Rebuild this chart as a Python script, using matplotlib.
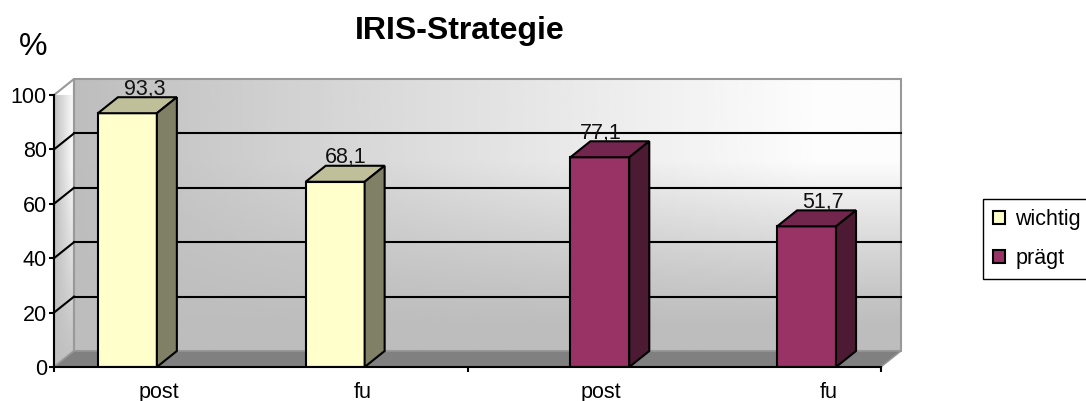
import numpy as np
import matplotlib
matplotlib.use('Agg')
import matplotlib.pyplot as plt
from matplotlib.patches import Polygon, Patch

plt.rcParams['font.family'] = ['Liberation Sans', 'DejaVu Sans']

# data
series_names = ['wichtig', 'prägt']
categories = ['post', 'fu', 'post', 'fu']
wichtig = [93.3, 68.1]
praegt = [77.1, 51.7]
value_labels = ['93,3', '68,1', '77,1', '51,7']
y_ticks = [0, 20, 40, 60, 80, 100]

# layout, x axis runs 0..4 with two groups of two
bar_pos = [0.355, 1.36, 2.64, 3.64]
bar_w = 0.285
label_pos = [0.508, 1.494, 2.646, 3.749]
value_pos = [0.44, 1.41, 2.645, 3.72]
DX = 20 / 206.75
DY = 16 / 2.72
LW = 1.5

colors = {'wichtig': ('#FFFFCC', '#BFBF99', '#808066'),
          'prägt': ('#993366', '#73264D', '#4D1A33')}

fig = plt.figure(figsize=(10.86, 4.01), dpi=100)
ax = fig.add_axes([54 / 1086, 1 - 367 / 401, 827 / 1086, 272 / 401])
ax.patch.set_visible(False)
for s in ['top', 'right']:
    ax.spines[s].set_visible(False)
for s in ['left', 'bottom']:
    ax.spines[s].set_linewidth(LW)
    ax.spines[s].set_zorder(6)

# back wall gradient, lighter towards upper right
xx, yy = np.meshgrid(np.linspace(0, 1, 200), np.linspace(0, 1, 100))
u = np.clip(xx / 0.9, 0, 1) ** 0.9
v = np.clip((yy - 0.08) / 0.62, 0, 1) ** 1.2
wall = 0.74 + 0.25 * u * v
ax.imshow(wall, extent=[DX, 4 + DX, DY, 100 + DY], origin='lower', cmap='gray',
          vmin=0, vmax=1, aspect='auto', zorder=1, clip_on=False)
ax.add_patch(Polygon([(DX, DY), (4 + DX, DY), (4 + DX, 100 + DY), (DX, 100 + DY)], closed=True,
                     fill=False, ec='#999999', lw=1.5, zorder=1.5, clip_on=False))

# left side wall
sx, sy = np.meshgrid(np.linspace(0, 1, 40), np.linspace(0, 1, 100))
side = 0.75 + 0.24 * sx * np.clip(sy / 0.7, 0, 1)
side_im = ax.imshow(side, extent=[0, DX, 0, 100 + DY], origin='lower', cmap='gray',
                    vmin=0, vmax=1, aspect='auto', zorder=1)
side_poly = Polygon([(0, 0), (DX, DY), (DX, 100 + DY), (0, 100)], closed=True,
                    fc='none', ec='#999999', lw=1.5, zorder=1.5, clip_on=False)
ax.add_patch(side_poly)
side_im.set_clip_path(side_poly)
ax.set_xlim(0, 4)
ax.set_ylim(0, 100)

# floor
ax.add_patch(Polygon([(0, 0), (4, 0), (4 + DX, DY), (DX, DY)], closed=True,
                     fc='#808080', ec='#999999', lw=1.0, zorder=1.6, clip_on=False))

# gridlines on wall and side
for t in y_ticks[1:-1]:
    ax.plot([DX, 4 + DX], [t + DY, t + DY], color='black', lw=LW, zorder=2, clip_on=False)
    ax.plot([0, DX], [t, t + DY], color='black', lw=LW, zorder=2, clip_on=False)

# bars, front face plus top and side
values = wichtig + praegt
names = [series_names[0]] * 2 + [series_names[1]] * 2
for x, v, n in zip(bar_pos, values, names):
    front, top, right = colors[n]
    l = x - bar_w / 2
    r = x + bar_w / 2
    ax.bar(x, v, width=bar_w, color=front, edgecolor='black', linewidth=LW, zorder=3)
    ax.add_patch(Polygon([(l, v), (r, v), (r + DX, v + DY), (l + DX, v + DY)], closed=True,
                         fc=top, ec='black', lw=LW, zorder=3, clip_on=False))
    ax.add_patch(Polygon([(r, 0), (r + DX, DY), (r + DX, v + DY), (r, v)], closed=True,
                         fc=right, ec='black', lw=LW, zorder=3, clip_on=False))

for x, v, lab in zip(value_pos, values, value_labels):
    ax.text(x, v + DY - 1.0, lab, ha='center', va='bottom', fontsize=15.5, color='#111111',
            zorder=5, clip_on=False)

ax.set_yticks(y_ticks)
ax.tick_params(axis='y', length=3.6, width=LW, labelsize=15.5, pad=1.5)
ax.set_xticks([0, 2, 4])
ax.set_xticklabels([])
ax.tick_params(axis='x', which='major', length=3.6, width=LW)
ax.set_xticks(label_pos, minor=True)
ax.set_xticklabels(categories, minor=True)
ax.tick_params(axis='x', which='minor', length=0, labelsize=15.5, pad=10.5)

fig.text(460 / 1086, 1 - 31 / 401, 'IRIS-Strategie', ha='center', va='center',
         fontsize=23, fontweight='bold')
fig.text(33 / 1086, 1 - 47 / 401, '%', ha='center', va='center', fontsize=23)

handles = [Patch(fc=colors[n][0], ec='black', lw=LW) for n in series_names]
fig.legend(handles, series_names, loc='upper left', bbox_to_anchor=(983 / 1086, 1 - 199 / 401),
           borderaxespad=0, fontsize=15.5, fancybox=False, framealpha=1, edgecolor='black',
           handlelength=0.55, handleheight=0.55, handletextpad=0.5, labelspacing=0.86,
           borderpad=0.45)

fig.savefig('out.png', dpi=100)
